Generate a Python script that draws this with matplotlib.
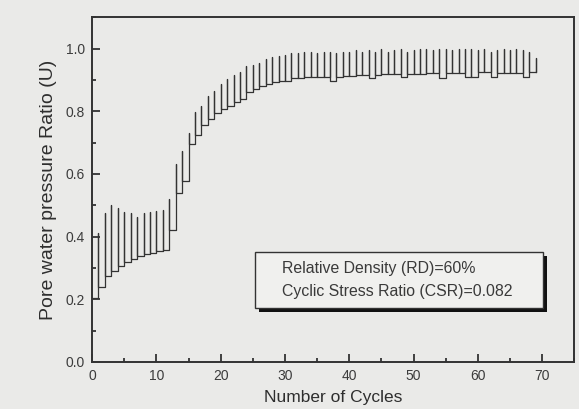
import matplotlib
matplotlib.use('Agg')
import matplotlib.pyplot as plt
from matplotlib.patches import Rectangle
from matplotlib.ticker import MultipleLocator

plt.rcParams['font.family'] = ['Liberation Sans', 'DejaVu Sans']

# pore pressure ratio at start, then for every cycle the peak and the level it falls back to
start_u = 0.205
cycles = list(range(1, 70))
peak_u = [
    0.41, 0.474, 0.50, 0.49, 0.48, 0.474, 0.463, 0.474, 0.48, 0.482,
    0.485, 0.52, 0.63, 0.673, 0.732, 0.797, 0.818, 0.85, 0.865, 0.886,
    0.904, 0.915, 0.925, 0.945, 0.947, 0.955, 0.965, 0.972, 0.975, 0.978,
    0.985, 0.985, 0.99, 0.99, 0.985, 0.99, 0.99, 0.985, 0.99, 0.99,
    0.995, 0.99, 0.995, 0.99, 1.0, 0.99, 0.995, 1.0, 0.99, 0.995,
    1.0, 1.0, 0.995, 1.0, 1.0, 0.995, 1.0, 1.0, 1.0, 0.995,
    1.0, 0.99, 0.995, 1.0, 0.995, 1.0, 0.995, 0.99, 0.97,
]
base_u = [
    0.238, 0.275, 0.29, 0.305, 0.318, 0.328, 0.337, 0.343, 0.348, 0.353,
    0.358, 0.42, 0.539, 0.576, 0.695, 0.725, 0.755, 0.775, 0.795, 0.807,
    0.818, 0.829, 0.84, 0.862, 0.872, 0.88, 0.887, 0.892, 0.895, 0.897,
    0.905, 0.905, 0.908, 0.908, 0.91, 0.91, 0.895, 0.91, 0.912, 0.912,
    0.915, 0.915, 0.905, 0.915, 0.918, 0.918, 0.918, 0.908, 0.92, 0.92,
    0.92, 0.922, 0.922, 0.905, 0.922, 0.922, 0.922, 0.908, 0.91, 0.925,
    0.925, 0.908, 0.922, 0.922, 0.922, 0.922, 0.908, 0.925, 0.925,
]

notes = ['Relative Density (RD)=60%', 'Cyclic Stress Ratio (CSR)=0.082']

# step trace: each cycle jumps up to its peak and drops to the new base
xs, ys = [0], [start_u]
prev = start_u
for c, p, b in zip(cycles, peak_u, base_u):
    xs += [c, c, c]
    ys += [prev, p, b]
    prev = b

bg = '#eaeae8'
fig = plt.figure(figsize=(5.79, 4.09), dpi=100, facecolor=bg)
ax = fig.add_axes([0.159, 0.115, 0.833, 0.843], facecolor=bg)
ax.plot(xs, ys, color='#333333', lw=0.9)

ax.set_xlim(0, 75)
ax.set_ylim(0, 1.1)
ax.xaxis.set_major_locator(MultipleLocator(10))
ax.xaxis.set_minor_locator(MultipleLocator(5))
ax.yaxis.set_major_locator(MultipleLocator(0.2))
ax.yaxis.set_minor_locator(MultipleLocator(0.1))
ax.set_xticks(range(0, 71, 10))
ax.tick_params(which='both', direction='in', colors='#333333', labelcolor='#3c3c3c',
               labelsize=10, width=1.3, pad=5)
ax.tick_params(which='major', length=6)
ax.tick_params(which='minor', length=3)
for s in ax.spines.values():
    s.set_color('#333333')
    s.set_linewidth(1.4)

ax.set_xlabel('Number of Cycles', fontsize=12.5, color='#2e2e2e', labelpad=5)
ax.set_ylabel('Pore water pressure Ratio (U)', fontsize=14, color='#2e2e2e', labelpad=6)

# annotation box with a drop shadow
bx, by, bw, bh = 0.338, 0.157, 0.596, 0.162
ax.add_patch(Rectangle((bx + 0.009, by - 0.013), bw, bh, transform=ax.transAxes,
                       facecolor='#111111', edgecolor='none', zorder=4))
ax.add_patch(Rectangle((bx, by), bw, bh, transform=ax.transAxes,
                       facecolor='#f0f0ee', edgecolor='#333333', lw=1.0, zorder=5))
ax.text(bx + 0.056, by + bh * 0.7, notes[0], transform=ax.transAxes, fontsize=11.4,
        color='#3a3a3a', va='center', zorder=6)
ax.text(bx + 0.056, by + bh * 0.3, notes[1], transform=ax.transAxes, fontsize=11.4,
        color='#3a3a3a', va='center', zorder=6)

fig.savefig('out.png', dpi=100, facecolor=bg)
